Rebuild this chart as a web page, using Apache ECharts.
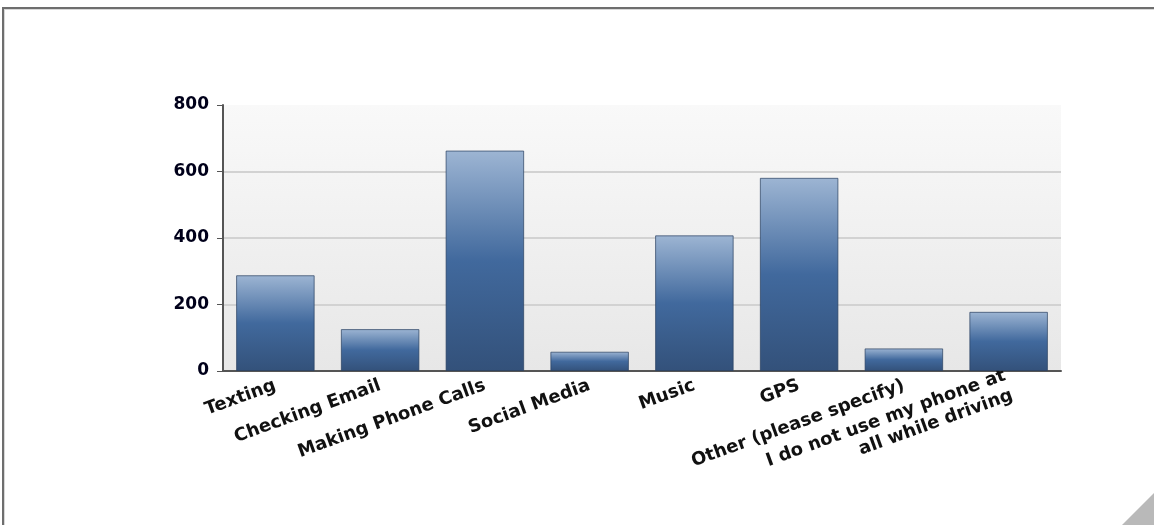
<!DOCTYPE html>
<html>
<head>
<meta charset="utf-8">
<script src="https://cdn.jsdelivr.net/npm/echarts@6/dist/echarts.min.js"></script>
<style>
  html, body { margin: 0; padding: 0; background: #fff; }
  .frame {
    position: absolute; left: 2px; top: 7px; right: 0; bottom: 0;
    border-top: 2px solid #6e6e6e; border-left: 2px solid #6e6e6e;
    box-shadow: inset 1px 1px 0 #d8d8d8;
  }
  .grip {
    position: absolute; right: 0; bottom: 0; width: 0; height: 0;
    border-left: 32px solid transparent; border-bottom: 32px solid #b9b9b9;
  }
  #chart { position: absolute; left: 0; top: 0; width: 1154px; height: 525px; }
</style>
</head>
<body>
<div class="frame"></div>
<div class="grip"></div>
<div id="chart"></div>
<script>
// 数据
const categories = [
  'Texting', 'Checking Email', 'Making Phone Calls', 'Social Media',
  'Music', 'GPS', 'Other (please specify)', 'I do not use my phone at\nall while driving'
]
const responses = [288, 126, 663, 58, 408, 581, 68, 178]
const yTicks = [0, 200, 400, 600, 800]

const chart = echarts.init(document.getElementById('chart'))

const option = {
  animation: false,
  grid: {
    left: 223,
    right: 93,
    top: 105,
    bottom: 154,
    show: true,
    borderWidth: 0,
    backgroundColor: new echarts.graphic.LinearGradient(0, 0, 0, 1, [
      { offset: 0, color: '#f9f9f9' },
      { offset: 1, color: '#e7e7e7' }
    ])
  },
  xAxis: {
    type: 'category',
    data: categories,
    axisLine: { lineStyle: { color: '#555', width: 2 } },
    axisTick: { alignWithLabel: true, length: 5, lineStyle: { color: '#555' } },
    axisLabel: {
      interval: 0,
      rotate: 20,
      margin: 14,
      color: '#111',
      fontFamily: 'DejaVu Sans, Verdana, sans-serif',
      fontWeight: 'bold',
      fontSize: 18,
      lineHeight: 21
    }
  },
  yAxis: {
    type: 'value',
    min: yTicks[0],
    max: yTicks[yTicks.length - 1],
    interval: 200,
    axisLine: { show: true, lineStyle: { color: '#555', width: 2 } },
    axisTick: { show: true, length: 6, lineStyle: { color: '#555' } },
    axisLabel: {
      margin: 14,
      color: '#00001a',
      fontFamily: 'DejaVu Sans, Verdana, sans-serif',
      fontWeight: 'bold',
      fontSize: 17
    },
    splitLine: { showMaxLine: false, lineStyle: { color: '#d2d2d2', width: 2 } }
  },
  series: [
    {
      type: 'bar',
      data: responses,
      barCategoryGap: '25%',
      itemStyle: {
        borderColor: 'rgba(40, 62, 95, 0.7)',
        borderWidth: 1,
        color: new echarts.graphic.LinearGradient(0, 0, 0, 1, [
          { offset: 0, color: '#9db5d3' },
          { offset: 0.5, color: '#41699d' },
          { offset: 1, color: '#33517a' }
        ])
      }
    }
  ]
}

chart.setOption(option)
</script>
</body>
</html>
